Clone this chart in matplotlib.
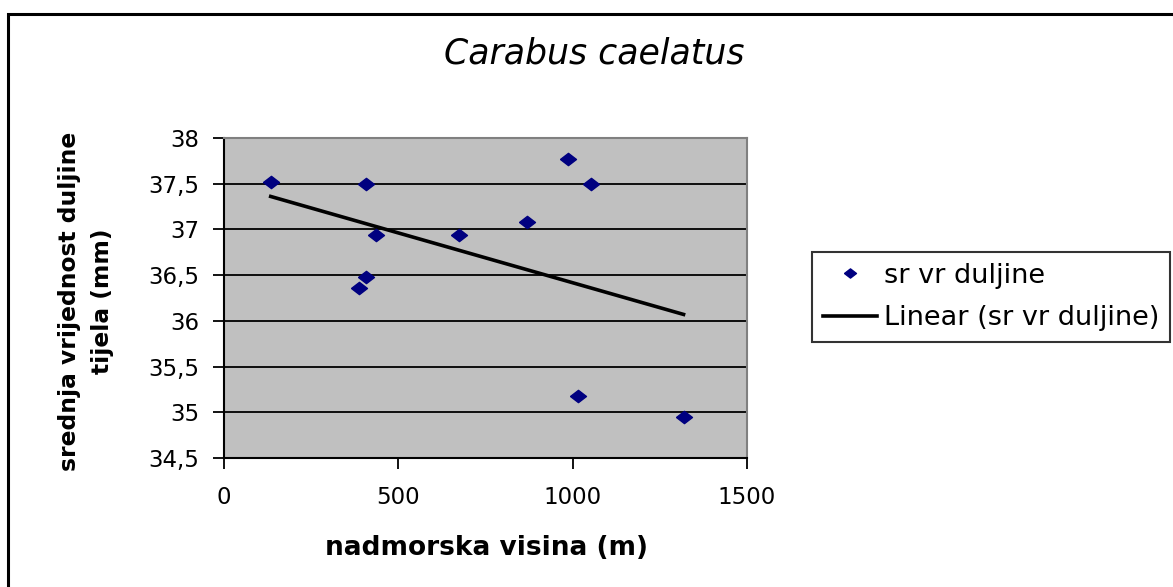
import numpy as np
import matplotlib
matplotlib.use('Agg')
import matplotlib.pyplot as plt
from matplotlib.patches import Rectangle

# data
visina = [134, 407, 436, 407, 386, 673, 870, 987, 1052, 1016, 1318]
duljina = [37.515, 37.497, 36.935, 36.48, 36.36, 36.935, 37.08, 37.77, 37.495, 35.18, 34.95]
xticks = [0, 500, 1000, 1500]
yticks = [34.5, 35, 35.5, 36, 36.5, 37, 37.5, 38]
ytick_labels = ['34,5', '35', '35,5', '36', '36,5', '37', '37,5', '38']

plt.rcParams['font.family'] = 'DejaVu Sans'

W, H = 1173, 587
fig = plt.figure(figsize=(W / 100, H / 100), dpi=100)
fig.patch.set_facecolor('white')

# outer chart frame (runs off the right and bottom edge)
fig.patches.append(Rectangle((8 / W, -0.2), 1.2, 1.2 - 14 / H,
                             transform=fig.transFigure, fill=False,
                             edgecolor='black', linewidth=2.2, clip_on=False))

ax = fig.add_axes([224 / W, 1 - 458 / H, (747 - 224) / W, (458 - 138) / H])
ax.set_facecolor('#C0C0C0')

xs = np.array(visina, dtype=float)
ys = np.array(duljina, dtype=float)
diamond = [(-1.3, 0), (0, 1), (1.3, 0), (0, -1), (-1.3, 0)]
ax.plot(xs, ys, linestyle='none', marker=diamond, markersize=11.5,
        color='#000080', label='sr vr duljine', zorder=4)

k, b = np.polyfit(xs, ys, 1)
lx = np.array([xs.min(), xs.max()])
ax.plot(lx, k * lx + b, color='black', linewidth=2.6,
        label='Linear (sr vr duljine)', zorder=3)

ax.set_xlim(0, 1500)
ax.set_ylim(34.5, 38)
ax.set_xticks(xticks)
ax.set_xticklabels([str(t) for t in xticks])
ax.set_yticks(yticks)
ax.set_yticklabels(ytick_labels)
ax.grid(axis='y', color='black', linewidth=1.3)
ax.set_axisbelow(True)
ax.tick_params(direction='out', length=8, width=1.3, labelsize=16.5, pad=10)
ax.tick_params(axis='x', pad=12)

for s in ['left', 'bottom']:
    ax.spines[s].set_color('black')
    ax.spines[s].set_linewidth(1.5)
for s in ['top', 'right']:
    ax.spines[s].set_color('#808080')
    ax.spines[s].set_linewidth(1.5)

fig.text(594 / W, 1 - 53 / H, 'Carabus caelatus', fontsize=25, style='italic',
         ha='center', va='center')
fig.text(486 / W, 1 - 548 / H, 'nadmorska visina (m)', fontsize=19,
         fontweight='bold', ha='center', va='center')
fig.text(86 / W, 1 - 301 / H, 'srednja vrijednost duljine\ntijela (mm)',
         fontsize=16.8, fontweight='bold', rotation=90, ha='center',
         va='center', multialignment='center', linespacing=1.6)

leg = ax.legend(loc='upper left', bbox_to_anchor=(812 / W, 1 - 252 / H),
                bbox_transform=fig.transFigure, borderaxespad=0,
                fontsize=19.5, frameon=True, fancybox=False, edgecolor='black',
                handlelength=2.0, handletextpad=0.25, borderpad=0.4,
                labelspacing=0.6, markerscale=0.75)
leg.get_frame().set_linewidth(1.5)

fig.savefig('out.png', dpi=100)
